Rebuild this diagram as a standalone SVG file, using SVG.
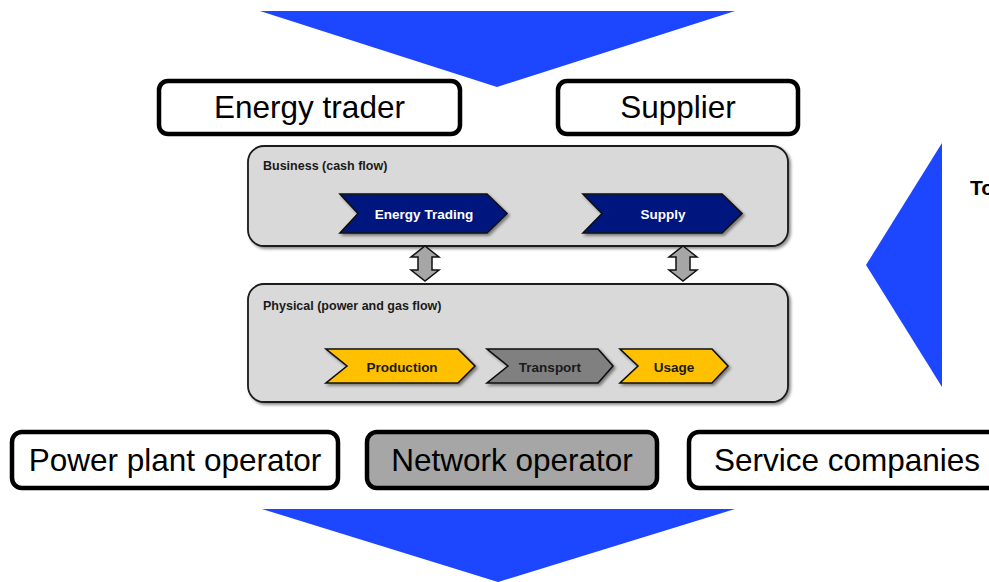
<svg xmlns="http://www.w3.org/2000/svg" width="989" height="582" viewBox="0 0 989 582">
<defs>
<filter id="sh" x="-10%" y="-10%" width="130%" height="140%">
<feDropShadow dx="2" dy="2" stdDeviation="1.5" flood-color="#000" flood-opacity="0.45"/>
</filter>
</defs>
<style>
.big{fill:#1c46ff}
.role{fill:#fff;stroke:#000;stroke-width:4.5}
.grey{fill:#a6a6a6}
.rt{font-family:"Liberation Sans",Arial,sans-serif;font-size:31.5px;fill:#000;text-anchor:middle}
.panel{fill:#d9d9d9;stroke:#1a1a1a;stroke-width:1.8}
.pl{font-family:"Liberation Sans",Arial,sans-serif;font-size:12.5px;font-weight:bold;fill:#1a1a1a}
.chev{stroke:#111;stroke-width:1.6;stroke-linejoin:miter}
.ct{font-family:"Liberation Sans",Arial,sans-serif;font-size:13.5px;font-weight:bold;text-anchor:middle}
.dbl{fill:#a6a6a6;stroke:#111;stroke-width:1.5;stroke-linejoin:miter}
</style>
<rect width="989" height="582" fill="#fff"/>

<g id="flows">
<polygon class="big" points="260,11 735,11 497,87"/>
<polygon class="big" points="942,143 866,265 942,387"/>
<polygon class="big" points="262,509 735,509 498,582"/>
<text x="970" y="195" font-family="Liberation Sans,Arial,sans-serif" font-size="21" font-weight="bold" fill="#000">To</text>
</g>

<g id="energy-trader">
<rect class="role" x="159" y="81" width="301" height="53" rx="9"/>
<text class="rt" x="309.5" y="118">Energy trader</text>
</g>
<g id="supplier">
<rect class="role" x="558" y="81" width="240" height="53" rx="9"/>
<text class="rt" x="678" y="118">Supplier</text>
</g>

<g id="business">
<rect class="panel" x="248" y="146" width="540" height="100" rx="16" filter="url(#sh)"/>
<text class="pl" x="263" y="170">Business (cash flow)</text>
</g>
<g id="energy-trading">
<polygon class="chev" fill="#00187f" points="340,194 487,194 507,213.5 487,233 340,233 358,213.5" filter="url(#sh)"/>
<text class="ct" x="424" y="219" fill="#fff">Energy Trading</text>
</g>
<g id="supply">
<polygon class="chev" fill="#00187f" points="583,194 722,194 742,213.5 722,233 583,233 602,213.5" filter="url(#sh)"/>
<text class="ct" x="663" y="219" fill="#fff">Supply</text>
</g>

<g id="physical">
<rect class="panel" x="248" y="284" width="540" height="118" rx="16" filter="url(#sh)"/>
<text class="pl" x="263" y="310">Physical (power and gas flow)</text>
</g>
<g id="production">
<polygon class="chev" fill="#ffc000" points="326,349 458,349 475,366 458,383 326,383 347,366" filter="url(#sh)"/>
<text class="ct" x="402" y="371.5" fill="#1a1a1a">Production</text>
</g>
<g id="transport">
<polygon class="chev" fill="#808080" points="487,349 598,349 613,366 598,383 487,383 508,366" filter="url(#sh)"/>
<text class="ct" x="550" y="371.5" fill="#1a1a1a">Transport</text>
</g>
<g id="usage">
<polygon class="chev" fill="#ffc000" points="620,349 712,349 728,366 712,383 620,383 638,366" filter="url(#sh)"/>
<text class="ct" x="674" y="371.5" fill="#1a1a1a">Usage</text>
</g>

<g id="connectors">
<polygon class="dbl" points="425,246 439,257 432,257 432,270 439,270 425,281 411,270 418,270 418,257 411,257"/>
<polygon class="dbl" points="683,246 697,257 690,257 690,270 697,270 683,281 669,270 676,270 676,257 669,257"/>
</g>

<g id="power-plant-operator">
<rect class="role" x="12" y="432" width="326" height="56" rx="10" stroke-width="5.5"/>
<text class="rt" x="175" y="471">Power plant operator</text>
</g>
<g id="network-operator">
<rect class="role grey" x="367" y="432" width="290" height="56" rx="10" stroke-width="5.5"/>
<text class="rt" x="512" y="471">Network operator</text>
</g>
<g id="service-companies">
<rect class="role" x="689" y="432" width="330" height="56" rx="10" stroke-width="5.5"/>
<text class="rt" x="847" y="471">Service companies</text>
</g>
</svg>
